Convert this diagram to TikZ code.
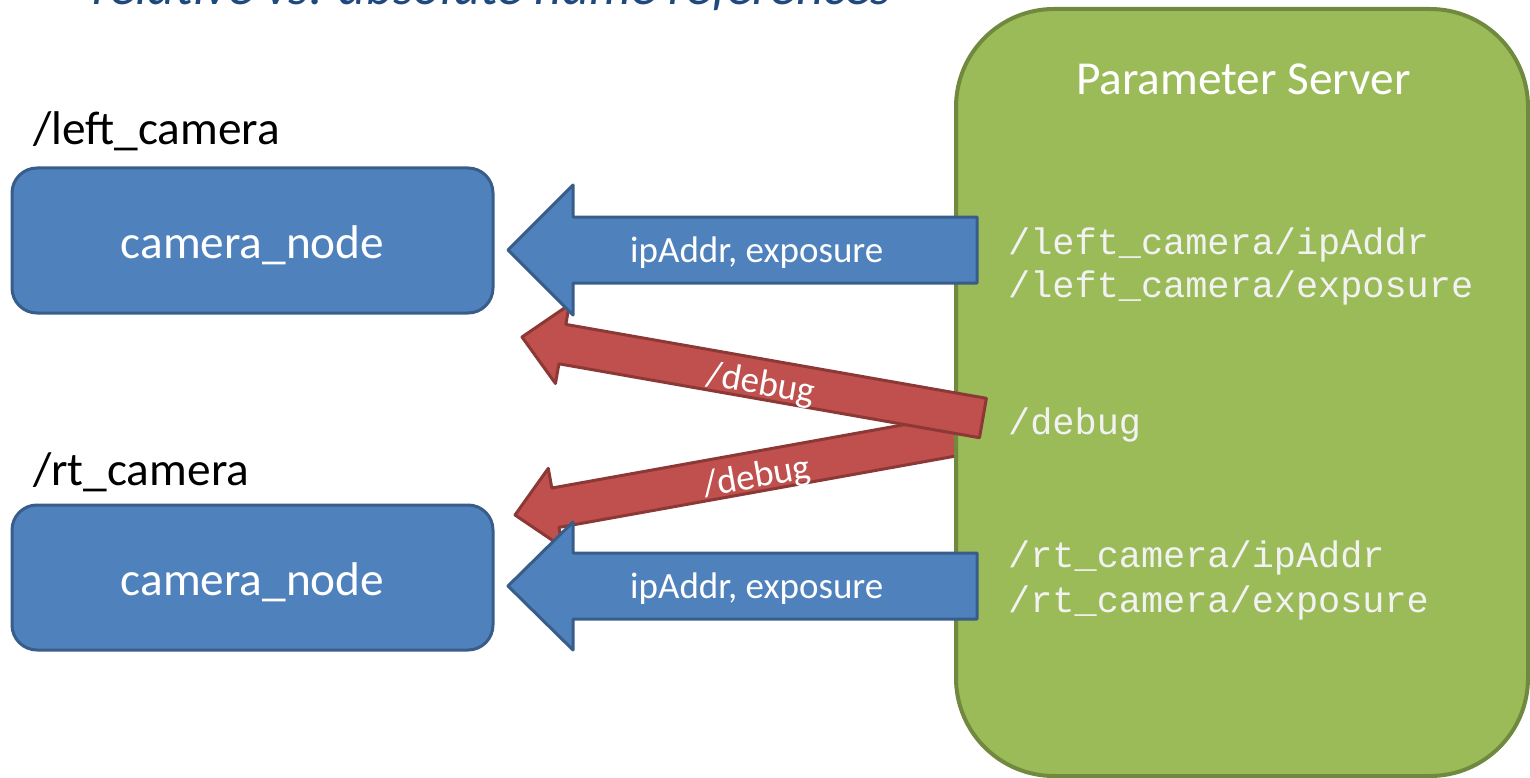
\documentclass[tikz,border=0pt]{standalone}
\usepackage{fontspec}
\setmainfont{Carlito}
\newfontfamily\monofont{Liberation Mono}
\definecolor{bfill}{HTML}{4F81BD}
\definecolor{bline}{HTML}{385D8A}
\definecolor{rfill}{HTML}{C0504D}
\definecolor{rline}{HTML}{8C3836}
\definecolor{gfill}{HTML}{9BBB59}
\definecolor{gline}{HTML}{71893F}
\definecolor{titleblue}{HTML}{1F497D}
\definecolor{pathwhite}{HTML}{F2F2F2}
\tikzset{
  bluearrow/.style={fill=bfill, draw=bline, line width=3pt, line join=round},
  redarrow/.style={fill=rfill, draw=rline, line width=3pt, line join=round},
  camerabox/.style={rectangle, fill=bfill, draw=bline, line width=3pt, rounded corners=25pt, minimum width=481pt, minimum height=145pt, inner sep=0pt},
  serverbox/.style={rectangle, fill=gfill, draw=gline, line width=4pt, rounded corners=98pt, minimum width=572pt, minimum height=767pt, inner sep=0pt},
  biglabel/.style={font=\fontsize{47.3}{56}\selectfont, inner sep=0pt},
  arrowlabel/.style={font=\fontsize{37}{44}\selectfont, text=white, inner sep=0pt},
  pathlabel/.style={font=\monofont\fontsize{36.9}{44}\selectfont, text=pathwhite, inner sep=0pt, anchor=base west},
}
\begin{document}
\begin{tikzpicture}[x=1pt,y=-1pt]
\useasboundingbox (0,0) rectangle (1530,778);
\clip (0,0) rectangle (1530,778);

% title (cut off at the top)
\node[anchor=base west, inner sep=0pt, text=titleblue, font=\itshape\fontsize{53}{60}\selectfont] (title) at (92,5) {relative vs. absolute name references};

% lower red arrow (behind server box)
\begin{scope}[shift={(515,515)}, rotate=10.2]
  \draw[redarrow] (0,0) -- (41,-40) -- (41,-20) -- (470,-20) -- (470,20) -- (41,20) -- (41,40) -- cycle;
\end{scope}

% parameter server
\node[serverbox] (server) at (1242,392.5) {};
\node[biglabel, text=white, anchor=base west] (servert) at (1076,95) {Parameter Server};

% upper red arrow (above server box)
\begin{scope}[shift={(522,337)}, rotate=-9.97]
  \draw[redarrow] (0,0) -- (41,-40) -- (41,-20) -- (468,-20) -- (468,20) -- (41,20) -- (41,40) -- cycle;
\end{scope}

% blue arrows
\draw[bluearrow] (977,217) -- (573,217) -- (573,185) -- (508,250) -- (573,315) -- (573,283) -- (977,283) -- cycle;
\draw[bluearrow] (977,553) -- (573,553) -- (573,522) -- (508,586) -- (573,650) -- (573,619) -- (977,619) -- cycle;

% camera boxes
\node[camerabox] (cam1) at (252.5,240.5) {};
\node[camerabox] (cam2) at (252.5,577.5) {};
\node[biglabel, text=white, anchor=base] (cam1t) at (252.5,258) {camera\_node};
\node[biglabel, text=white, anchor=base] (cam2t) at (252.5,595) {camera\_node};

% namespace labels
\node[biglabel, anchor=base west] (ns1) at (33,145) {/left\_camera};
\node[biglabel, anchor=base west] (ns2) at (33,485) {/rt\_camera};

% arrow labels
\node[arrowlabel, anchor=base west] (a1) at (630,262) {ipAddr, exposure};
\node[arrowlabel, anchor=base west] (a2) at (630,598) {ipAddr, exposure};
\node[arrowlabel, rotate=-10] (d1) at (761,385) {/debug};
\node[arrowlabel, rotate=10] (d2) at (757,478) {/debug};

% parameter names
\node[pathlabel] (p1) at (1008,254) {/left\_camera/ipAddr};
\node[pathlabel] (p2) at (1008,297) {/left\_camera/exposure};
\node[pathlabel] (p3) at (1008,434) {/debug};
\node[pathlabel] (p4) at (1008,567) {/rt\_camera/ipAddr};
\node[pathlabel] (p5) at (1008,612) {/rt\_camera/exposure};
\end{tikzpicture}
\end{document}
